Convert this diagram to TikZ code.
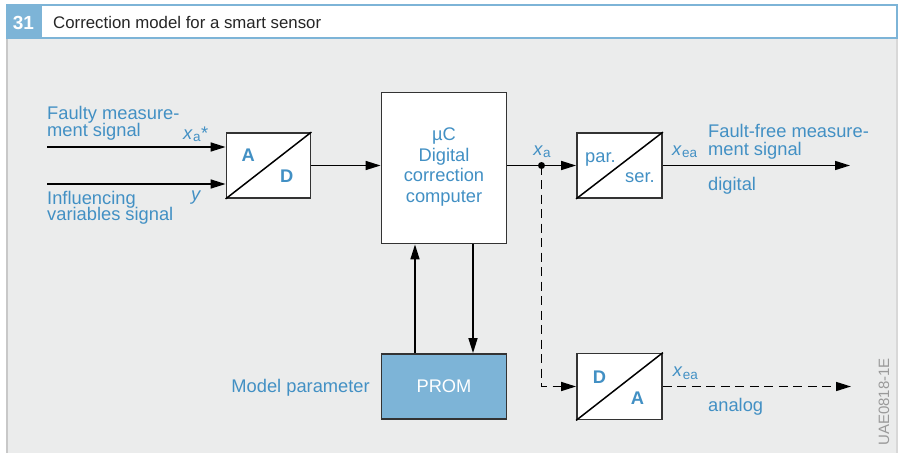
\documentclass[tikz,border=0pt]{standalone}
\usepackage{fontspec}
\setmainfont{Liberation Sans}
\usetikzlibrary{arrows.meta}
\definecolor{bgc}{HTML}{EBECEC}
\definecolor{hblue}{HTML}{7DB4D7}
\definecolor{tblue}{HTML}{4290C4}
\definecolor{bord}{HTML}{333333}
\definecolor{edgegrey}{HTML}{C8C8C8}
\definecolor{codegrey}{HTML}{9A9A9A}
\newcommand\xsub[1]{\textit{x}\kern0.3pt\raisebox{-0.28ex}{\fontsize{13.5}{14}\selectfont #1}}
\tikzset{
  lbl/.style={text=tblue, font=\fontsize{18.3}{20}\selectfont, inner sep=0pt},
  blbl/.style={lbl, font=\fontsize{18.3}{20}\selectfont\bfseries},
  box/.style={draw=bord, line width=1.8pt, fill=white, inner sep=0pt},
  conn/.style={line width=1.5pt, black},
  arr/.style={conn, -{Triangle[length=15pt,width=9pt]}},
  darr/.style={arr, dash pattern=on 9pt off 5.5pt},
}
\begin{document}
\begin{tikzpicture}[x=1pt,y=-1pt]
\useasboundingbox (0,0) rectangle (900,453);
% background and header
\fill[bgc] (6,39) rectangle (898,453);
\draw[edgegrey, line width=2pt] (7,39) -- (7,453);
\draw[edgegrey!70, line width=1.5pt] (897,39) -- (897,453);
\fill[hblue] (6,4) rectangle (41,39);
\draw[hblue, line width=2.2pt, fill=white] (41,5.2) rectangle (897,37.8);
\node[anchor=base, text=white, font=\fontsize{19}{20}\selectfont\bfseries, inner sep=0pt] (num) at (23.5,29) {31};
\node[anchor=base west, text=black!85, font=\fontsize{16.8}{18}\selectfont, inner sep=0pt] (title) at (53,28) {Correction model for a smart sensor};
% boxes
\node[box, minimum width=84pt, minimum height=65pt] (ad) at (268.5,165.5) {};
\node[box, minimum width=125pt, minimum height=151pt] (uc) at (444,168) {};
\node[box, minimum width=85pt, minimum height=65pt] (ps) at (619.5,165.5) {};
\node[box, minimum width=85pt, minimum height=66pt] (da) at (619.5,386.5) {};
\node[box, fill=hblue, minimum width=125pt, minimum height=65pt] (prom) at (444,386.5) {};
\draw[conn] (ad.south west) -- (ad.north east);
\draw[conn] (ps.south west) -- (ps.north east);
\draw[conn] (da.south west) -- (da.north east);
% coordinates
\coordinate (in1) at (47,147);
\coordinate (in2) at (47,184);
\coordinate (j) at (541.5,165.5);
\coordinate (o1) at (850,165.5);
\coordinate (o2) at (851,386.5);
\coordinate (cu) at (415,0);
\coordinate (cd) at (473,0);
% connectors
\draw[arr] (in1) -- (in1 -| ad.west);
\draw[arr] (in2) -- (in2 -| ad.west);
\draw[arr] (ad.east) -- (ad.east -| uc.west);
\draw[conn] (ps.west -| uc.east) -- (j);
\draw[arr] (j) -- (ps.west);
\draw[arr] (ps.east) -- (o1);
\draw[darr] (j) |- (da.west);
\draw[darr] (da.east) -- (o2);
\draw[arr] (prom.north -| cu) -- (uc.south -| cu);
\draw[arr] (uc.south -| cd) -- (prom.north -| cd);
\fill[black] (j) circle (3.5pt);
% labels
\node[lbl, anchor=base west] (t1a) at (47,119) {Faulty measure-};
\node[lbl, anchor=base west] (t1b) at (47,136) {ment signal};
\node[lbl, anchor=base west] (t2a) at (47,204) {Influencing};
\node[lbl, anchor=base west] (t2b) at (47,220.5) {variables signal};
\node[lbl, anchor=base west] (xa1) at (183,139) {\xsub{a}\kern0.5pt*};
\node[lbl, anchor=base west] (yy) at (191,200) {\textit{y}};
\node[blbl, anchor=base west] (lA) at (241.5,161.7) {A};
\node[blbl, anchor=base west] (lD) at (280,182.7) {D};
\node[lbl, anchor=base] (u1) at (444,140) {µC};
\node[lbl, anchor=base] (u2) at (444,161) {Digital};
\node[lbl, anchor=base] (u3) at (444,181.5) {correction};
\node[lbl, anchor=base] (u4) at (444,202) {computer};
\node[lbl, anchor=base] (xa2) at (542,155) {\xsub{a}};
\node[lbl, anchor=base west] (par) at (585,162) {par.};
\node[lbl, anchor=base west] (ser) at (625,182.7) {ser.};
\node[lbl, anchor=base west] (xea1) at (672,155) {\xsub{ea}};
\node[lbl, anchor=base west] (f1) at (708,137) {Fault-free measure-};
\node[lbl, anchor=base west] (f2) at (708,155.5) {ment signal};
\node[lbl, anchor=base west] (dig) at (708,190) {digital};
\node[blbl, anchor=base west] (dD) at (592.7,383.3) {D};
\node[blbl, anchor=base west] (dA) at (630.7,404) {A};
\node[lbl, anchor=base west] (xea2) at (672.7,376.7) {\xsub{ea}};
\node[lbl, anchor=base west] (ana) at (708,411) {analog};
\node[lbl, anchor=base east] (mp) at (370,392) {Model parameter};
\node[lbl, text=white] (promt) at (prom.center) {PROM};
\node[inner sep=0pt, text=codegrey, font=\fontsize{15}{16}\selectfont, rotate=90] (code) at (884,402) {UAE0818-1E};
\end{tikzpicture}
\end{document}
